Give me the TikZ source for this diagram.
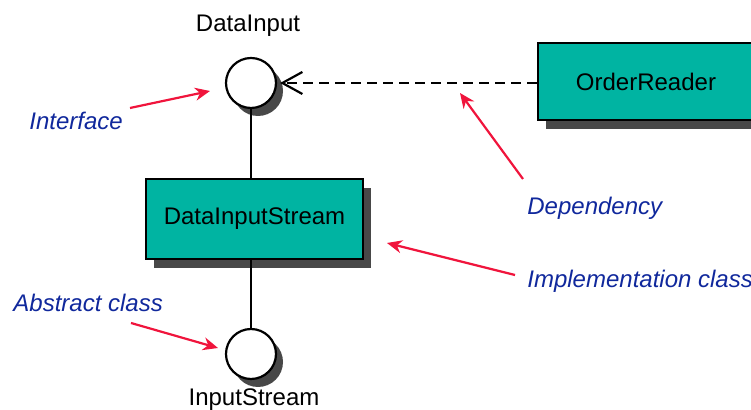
\documentclass[tikz,border=0pt]{standalone}
\usepackage{fontspec}
\setmainfont{Liberation Sans}
\usepackage{tikz}
\usetikzlibrary{arrows.meta,positioning,shadows}
\definecolor{clsteal}{RGB}{0,180,162}
\definecolor{notered}{RGB}{240,20,60}
\definecolor{noteblue}{RGB}{16,40,156}
\definecolor{shade}{RGB}{72,72,72}
\tikzset{
  cls/.style={draw, line width=1.1pt, fill=clsteal, font=\fontsize{12}{14}\selectfont,
    drop shadow={shadow xshift=4pt, shadow yshift=-4.5pt, fill=shade, opacity=1}},
  iface/.style={draw, circle, line width=1.1pt, fill=white, minimum size=25pt, inner sep=0pt,
    drop shadow={shadow xshift=3.5pt, shadow yshift=-4pt, fill=shade, opacity=1}},
  nm/.style={font=\fontsize{12}{14}\selectfont, anchor=base, inner sep=0pt},
  note/.style={font=\fontsize{12}{14}\selectfont\itshape, text=noteblue, anchor=base west, inner sep=0pt},
  ptr/.style={draw=notered, line width=1.1pt, -{Stealth[length=7.5pt,width=6.5pt]}},
  dep/.style={line width=1.1pt, dash pattern=on 5pt off 3pt, -{Straight Barb[length=10pt,width=11pt]}, shorten >=1.5pt}
}
\begin{document}
\begin{tikzpicture}[x=0.5pt, y=-0.5pt]
\path[use as bounding box, clip] (0,0) rectangle (751,410);
% classes and interfaces
\node[iface] (din) at (251,83) {};
\node[iface] (ins) at (251,354) {};
\node[cls, minimum width=108.5pt, minimum height=40pt] (dis) at (254.5,219) {DataInputStream};
\node[cls, minimum width=108pt, minimum height=38.5pt] (rdr) at (646,81.5) {OrderReader};
\node[nm] (dinlbl) at (248,32) {DataInput};
\node[nm] (inslbl) at (254,406) {InputStream};
% links
\draw[line width=1.1pt] (din.south) -- (din.south |- dis.north);
\draw[line width=1.1pt] (ins.north |- dis.south) -- (ins.north);
\draw[dep] (din.east -| rdr.west) -- (din.east);
% notes
\node[note] (nif) at (29,130) {Interface};
\node[note] (nab) at (13,312) {Abstract class};
\node[note] (ndep) at (527,215) {Dependency};
\node[note] (nimp) at (527,288) {Implementation class};
\coordinate (pif) at (130,108);
\coordinate (pab) at (131,323);
\coordinate (pdep) at (523,179);
\coordinate (pimp) at (515,275);
\draw[ptr] (pif) -- (210,91);
\draw[ptr] (pab) -- (218,348);
\draw[ptr] (pdep) -- (460,93);
\draw[ptr] (pimp) -- (387,243);
\end{tikzpicture}
\end{document}
